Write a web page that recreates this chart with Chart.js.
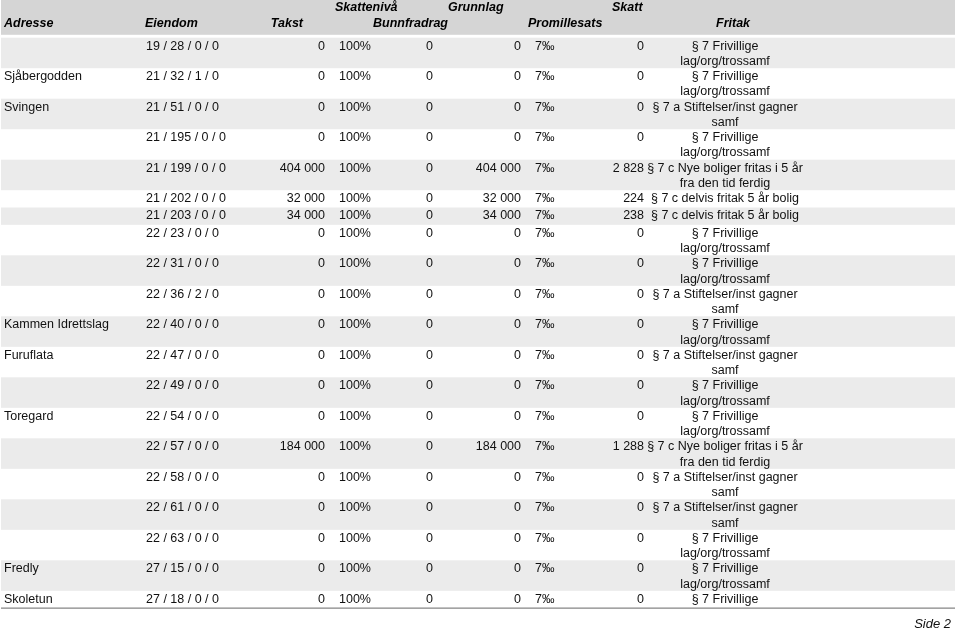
<!DOCTYPE html>
<html lang="no">
<head>
  <meta charset="UTF-8">
  <title>Eiendomsskatt - fritak</title>
  <style>
    body {
      margin: 0;
      padding: 0;
      background: #fff;
    }
    .chart-container {
      width: 960px;
      height: 630px;
    }
  </style>
</head>
<body>
  <div class="chart-container">
    <canvas id="tabell" width="960" height="630"></canvas>
  </div>

  <script src="https://cdn.jsdelivr.net/npm/chart.js"></script>
  <script>
    // Data read from the page
    const adresse = ['', 'Sjåbergodden', 'Svingen', '', '', '', '', '', '', '',
      'Kammen Idrettslag', 'Furuflata', '', 'Toregard', '', '', '', '', 'Fredly', 'Skoletun'];
    const eiendom = ['19 / 28 / 0 / 0', '21 / 32 / 1 / 0', '21 / 51 / 0 / 0', '21 / 195 / 0 / 0',
      '21 / 199 / 0 / 0', '21 / 202 / 0 / 0', '21 / 203 / 0 / 0', '22 / 23 / 0 / 0',
      '22 / 31 / 0 / 0', '22 / 36 / 2 / 0', '22 / 40 / 0 / 0', '22 / 47 / 0 / 0',
      '22 / 49 / 0 / 0', '22 / 54 / 0 / 0', '22 / 57 / 0 / 0', '22 / 58 / 0 / 0',
      '22 / 61 / 0 / 0', '22 / 63 / 0 / 0', '27 / 15 / 0 / 0', '27 / 18 / 0 / 0'];
    const takst = [0, 0, 0, 0, 404000, 32000, 34000, 0, 0, 0, 0, 0, 0, 0, 184000, 0, 0, 0, 0, 0];
    const skatteniva = [100, 100, 100, 100, 100, 100, 100, 100, 100, 100, 100, 100, 100, 100, 100, 100, 100, 100, 100, 100];
    const bunnfradrag = [0, 0, 0, 0, 0, 0, 0, 0, 0, 0, 0, 0, 0, 0, 0, 0, 0, 0, 0, 0];
    const grunnlag = [0, 0, 0, 0, 404000, 32000, 34000, 0, 0, 0, 0, 0, 0, 0, 184000, 0, 0, 0, 0, 0];
    const promillesats = [7, 7, 7, 7, 7, 7, 7, 7, 7, 7, 7, 7, 7, 7, 7, 7, 7, 7, 7, 7];
    const skatt = [0, 0, 0, 0, 2828, 224, 238, 0, 0, 0, 0, 0, 0, 0, 1288, 0, 0, 0, 0, 0];

    const FRIVILLIGE = '§ 7 Frivillige\nlag/org/trossamf';
    const STIFTELSER = '§ 7 a Stiftelser/inst gagner\nsamf';
    const NYE = '§ 7 c Nye boliger fritas i 5 år\nfra den tid ferdig';
    const DELVIS = '§ 7 c delvis fritak 5 år bolig';
    const fritak = [FRIVILLIGE, FRIVILLIGE, STIFTELSER, FRIVILLIGE, NYE, DELVIS, DELVIS,
      FRIVILLIGE, FRIVILLIGE, STIFTELSER, FRIVILLIGE, STIFTELSER, FRIVILLIGE, FRIVILLIGE,
      NYE, STIFTELSER, STIFTELSER, FRIVILLIGE, FRIVILLIGE, '§ 7 Frivillige'];

    const headerTop = ['Skattenivå', 'Grunnlag', 'Skatt'];
    const headerBottom = ['Adresse', 'Eiendom', 'Takst', 'Bunnfradrag', 'Promillesats', 'Fritak'];
    const sideLabel = 'Side 2';

    // layout of the columns (x in page units)
    const columns = [
      { get: i => adresse[i], x: 4, align: 'left' },
      { get: i => eiendom[i], x: 146, align: 'left' },
      { get: i => tall(takst[i]), x: 325, align: 'right' },
      { get: i => skatteniva[i] + '%', x: 339, align: 'left' },
      { get: i => tall(bunnfradrag[i]), x: 433, align: 'right' },
      { get: i => tall(grunnlag[i]), x: 521, align: 'right' },
      { get: i => promillesats[i] + '‰', x: 535, align: 'left' },
      { get: i => tall(skatt[i]), x: 644, align: 'right' },
      { get: i => fritak[i], x: 725, align: 'center' }
    ];
    const headerTopX = [335, 448, 612];
    const headerBottomX = [
      { x: 4, align: 'left' }, { x: 145, align: 'left' }, { x: 303, align: 'right' },
      { x: 373, align: 'left' }, { x: 528, align: 'left' }, { x: 716, align: 'left' }
    ];

    const MIN_ROW = 1.135;   // a one-line row is a bit taller than one text line
    const FONT = '"Liberation Sans", Arial, Helvetica, sans-serif';

    function tall(n) {
      return String(n).replace(/\B(?=(\d{3})+(?!\d))/g, ' ');
    }

    const tablePlugin = {
      id: 'tablePlugin',
      afterDraw(chart) {
        const ctx = chart.ctx;
        const x = chart.scales.x;
        const y = chart.scales.y;
        const px = v => x.getPixelForValue(v);
        const py = v => y.getPixelForValue(v);
        ctx.save();

        // header
        ctx.fillStyle = '#d5d5d5';
        ctx.fillRect(px(1), py(-2.472), px(955) - px(1), py(-0.19) - py(-2.472));
        ctx.fillStyle = '#000';
        ctx.font = 'italic bold 12.5px ' + FONT;
        ctx.textBaseline = 'middle';
        headerTop.forEach((t, k) => {
          ctx.textAlign = 'left';
          ctx.fillText(t, px(headerTopX[k]), py(-1.99));
        });
        headerBottom.forEach((t, k) => {
          ctx.textAlign = headerBottomX[k].align;
          ctx.fillText(t, px(headerBottomX[k].x), py(-0.9));
        });

        // rows
        let top = 0;
        ctx.font = '12.5px ' + FONT;
        eiendom.forEach((e, i) => {
          const lines = fritak[i].split('\n').length;
          const h = Math.max(lines, MIN_ROW);
          if (i % 2 === 0) {
            ctx.fillStyle = '#ebebeb';
            ctx.fillRect(px(1), py(top), px(955) - px(1), py(top + h) - py(top));
          }
          ctx.fillStyle = '#111';
          columns.forEach(c => {
            ctx.textAlign = c.align;
            String(c.get(i)).split('\n').forEach((ln, j) => {
              ctx.fillText(ln, px(c.x), py(top + 0.56 + j));
            });
          });
          top += h;
        });

        // bottom rule
        ctx.strokeStyle = '#858585';
        ctx.lineWidth = 1.2;
        ctx.beginPath();
        ctx.moveTo(px(1), py(top));
        ctx.lineTo(px(955), py(top));
        ctx.stroke();

        // page number
        ctx.fillStyle = '#111';
        ctx.font = 'italic 13px ' + FONT;
        ctx.textAlign = 'right';
        ctx.fillText(sideLabel, px(951), py(38.45));
        ctx.restore();
      }
    };

    new Chart(document.getElementById('tabell').getContext('2d'), {
      type: 'scatter',
      data: { datasets: [{ data: [], pointRadius: 0 }] },
      options: {
        responsive: false,
        animation: false,
        events: [],
        layout: { padding: 0 },
        plugins: { legend: { display: false }, tooltip: { enabled: false } },
        scales: {
          x: { type: 'linear', display: false, min: 0, max: 960 },
          y: { type: 'linear', display: false, reverse: true, min: -2.472, max: 38.84 }
        }
      },
      plugins: [tablePlugin]
    });
  </script>
</body>
</html>
